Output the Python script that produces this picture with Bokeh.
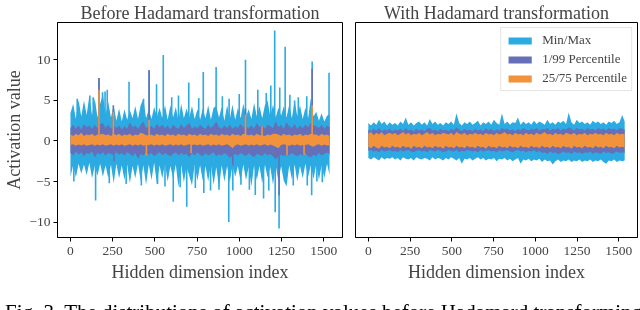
from bokeh.plotting import figure
from bokeh.layouts import row, column
from bokeh.models import Range1d, FixedTicker, Legend, LegendItem, Div
from bokeh.embed import file_html
from bokeh.resources import INLINE

# ---------------- data ----------------
# sampled hidden-dimension indices (every 16th channel)
X = list(range(0, 1536, 16)) + [1535]

X_TICKS = [0, 250, 500, 750, 1000, 1250, 1500]
Y_TICKS = [-10, -5, 0, 5, 10]

# Before Hadamard: typical envelope
MAX_L = [3.4, 4.6, 2.7, 5.1, 3.0, 5.0, 3.2, 5.6, 3.1, 5.3,
         2.9, 4.6, 5.8, 3.3, 4.8, 2.9, 4.4, 2.5, 4.0, 2.4,
         3.9, 2.6, 3.8, 2.8, 4.3, 2.7, 4.4, 5.2, 2.8, 3.9,
         2.7, 4.2, 3.0, 4.1, 2.8, 4.4, 2.6, 4.4, 2.9, 4.2,
         2.5, 4.6, 2.8, 4.0, 2.9, 4.3, 2.7, 3.9, 2.6, 4.0,
         2.8, 4.4, 2.6, 4.1, 4.3, 2.9, 4.2, 2.5, 4.4, 2.7,
         4.5, 2.6, 4.1, 2.8, 4.6, 3.0, 3.9, 2.7, 4.7, 3.0,
         4.3, 2.8, 4.4, 5.0, 3.0, 4.5, 2.9, 4.1, 3.1, 4.3,
         2.9, 4.5, 2.8, 5.0, 3.0, 4.4, 2.7, 4.1, 2.8, 5.3,
         3.0, 3.6, 2.5, 3.4, 2.4, 3.1, 3.3]
MIN_L = [-4.4, -3.0, -4.5, -2.8, -4.0, -2.9, -4.2, -2.7, -4.6, -3.1,
         -4.3, -2.8, -4.4, -3.0, -4.6, -2.9, -5.2, -2.8, -4.6, -3.0,
         -4.8, -2.9, -5.2, -3.1, -4.6, -2.8, -4.9, -3.0, -5.4, -2.9,
         -4.8, -2.7, -5.3, -3.0, -4.6, -2.8, -5.0, -3.1, -4.6, -2.9,
         -5.7, -3.0, -5.1, -3.2, -4.3, -5.5, -2.9, -4.9, -3.0, -4.9,
         -3.1, -5.0, -2.9, -5.4, -3.2, -5.8, -3.0, -5.0, -3.1, -5.1,
         -3.0, -4.4, -3.1, -5.0, -2.9, -4.8, -3.2, -5.6, -3.0, -4.8,
         -3.1, -5.2, -2.9, -4.5, -3.2, -5.4, -3.0, -5.0, -3.1, -4.9,
         -5.6, -3.0, -4.75, -2.9, -5.0, -3.1, -4.6, -2.8, -4.4, -3.0,
         -4.7, -2.9, -4.8, -3.0, -4.6, -2.8, -4.2]
P99_L = [1.6, 2.0, 1.5, 1.9, 1.4, 2.1, 1.7, 1.9, 1.5, 2.0,
         1.6, 2.1, 2.2, 1.6, 2.0, 1.5, 1.9, 1.6, 1.9, 1.4,
         1.8, 1.5, 2.3, 1.7, 1.9, 1.5, 2.0, 2.4, 1.6, 1.8,
         1.8, 1.5, 2.1, 1.7, 2.0, 1.6, 1.9, 1.4, 2.0, 1.7,
         1.5, 2.1, 1.6, 1.9, 2.2, 1.5, 1.8, 1.6, 2.0, 1.7,
         1.5, 2.0, 1.6, 1.9, 2.4, 1.7, 1.5, 1.9, 1.6, 2.0,
         1.5, 1.8, 1.6, 2.1, 1.7, 1.7, 1.6, 1.9, 1.5, 2.2,
         1.7, 1.9, 1.5, 2.0, 1.8, 1.6, 2.5, 1.7, 2.0, 1.5,
         2.3, 1.8, 1.6, 2.1, 1.5, 1.9, 1.6, 2.0, 1.7, 2.2,
         1.9, 1.8, 1.6, 2.0, 1.5, 1.9, 1.7]
P1_L = [-1.5, -1.8, -1.3, -1.7, -1.4, -1.9, -1.5, -1.6, -1.3, -2.0,
        -1.5, -1.7, -1.4, -1.8, -1.5, -1.6, -1.7, -1.4, -1.7, -1.5,
        -1.8, -1.4, -1.6, -1.9, -1.5, -2.2, -1.6, -1.8, -1.4, -1.7,
        -1.5, -1.9, -1.6, -1.4, -1.8, -1.5, -1.7, -1.9, -1.6, -1.4,
        -1.8, -1.5, -1.7, -1.6, -2.0, -1.5, -1.8, -1.4, -1.7, -1.9,
        -1.5, -1.8, -1.6, -1.4, -1.9, -1.6, -1.8, -1.5, -1.7, -2.1,
        -1.8, -1.6, -1.8, -1.5, -1.7, -1.9, -1.5, -1.8, -2.0, -1.6,
        -1.7, -1.9, -1.5, -1.8, -1.6, -1.9, -2.3, -1.9, -1.7, -1.9,
        -1.6, -1.8, -1.5, -1.7, -1.9, -1.6, -1.8, -1.5, -1.9, -2.0,
        -1.7, -1.9, -1.5, -1.8, -1.6, -1.4, -1.7]
P75_L = [0.8, 0.6, 0.9, 0.7, 1.0, 0.6, 0.8, 0.7, 0.9, 0.6,
         0.8, 0.8, 0.9, 0.7, 0.8, 0.6, 0.9, 0.7, 0.9, 0.6,
         0.8, 0.7, 0.9, 0.6, 0.8, 0.7, 1.0, 0.9, 0.7, 0.7,
         0.8, 0.6, 0.9, 0.7, 0.8, 0.6, 0.9, 0.7, 0.8, 0.6,
         0.9, 0.7, 0.8, 0.6, 0.9, 0.7, 0.8, 0.6, 0.9, 0.7,
         0.8, 0.6, 0.9, 0.7, 0.8, 0.6, 0.9, 0.7, 0.8, 0.6,
         0.9, 0.7, 0.8, 0.6, 0.9, 0.8, 0.7, 0.8, 0.6, 0.9,
         0.7, 0.7, 0.6, 0.8, 0.7, 0.9, 0.9, 0.8, 0.6, 0.9,
         0.7, 0.8, 0.6, 0.8, 0.7, 0.9, 0.6, 0.8, 0.7, 0.9,
         0.8, 0.8, 0.6, 0.9, 0.7, 0.8, 0.6]
P25_L = [-0.5, -0.4, -0.6, -0.45, -0.55, -0.4, -0.6, -0.5, -0.4, -0.6,
         -0.45, -0.55, -0.4, -0.6, -0.5, -0.4, -0.6, -0.45, -0.55, -0.4,
         -0.6, -0.5, -0.4, -0.6, -0.45, -0.55, -0.4, -0.6, -0.5, -0.5,
         -0.4, -0.6, -0.45, -0.55, -0.4, -0.6, -0.5, -0.4, -0.6, -0.45,
         -0.55, -0.4, -0.6, -0.5, -0.4, -0.5, -0.45, -0.55, -0.4, -0.6,
         -0.5, -0.4, -0.6, -0.45, -0.55, -0.4, -0.6, -0.5, -0.4, -0.6,
         -0.9, -0.55, -0.4, -0.6, -0.5, -0.4, -0.6, -0.45, -0.55, -0.4,
         -0.6, -0.5, -0.4, -0.6, -0.45, -0.55, -0.7, -0.9, -0.5, -0.4,
         -0.5, -0.6, -0.45, -0.55, -0.4, -0.6, -0.5, -0.5, -0.4, -0.6,
         -0.7, -0.5, -0.4, -0.6, -0.45, -0.55, -0.5]

# Before Hadamard: isolated outlier channels (index, value)
SPK_MAX_I = [40, 115, 135, 169, 190, 205, 218, 347, 433, 466, 510, 550, 600, 640,
             701, 760, 787, 863, 900, 940, 1000, 1037, 1110, 1160, 1187, 1210,
             1240, 1272, 1300, 1328, 1350, 1400, 1432, 1532]
SPK_MAX_V = [5.2, 5.6, 5.4, 7.75, 6.0, 6.1, 6.3, 7.3, 5.2, 8.7, 7.0, 10.6, 5.4, 5.6,
             7.2, 5.3, 8.5, 9.1, 5.5, 5.2, 5.8, 10.0, 6.3, 5.9, 6.85, 13.6,
             6.6, 11.6, 5.7, 5.0, 5.4, 5.5, 9.8, 8.4]
SPK_MIN_I = [20, 149, 230, 330, 420, 516, 560, 609, 650, 689, 740, 790, 830, 880,
             938, 962, 1010, 1060, 1095, 1144, 1175, 1213, 1236, 1320, 1403, 1429,
             1460, 1492]
SPK_MIN_V = [-5.0, -7.35, -5.2, -5.3, -5.5, -5.3, -5.6, -7.5, -5.7, -8.1, -5.8, -6.4,
             -6.1, -6.0, -10.0, -6.1, -5.4, -6.0, -6.65, -7.1, -6.1, -8.8, -10.8,
             -5.5, -5.5, -6.7, -5.0, -5.1]
SPK_P99_I = [169, 254, 466, 1037, 1432]
SPK_P99_V = [7.75, 4.4, 8.7, 4.0, 8.9]
SPK_P1_I = [258, 962, 1236]
SPK_P1_V = [-2.5, -3.0, -6.7]
SPK_P75_I = [169, 254, 466, 1037, 1135, 1432]
SPK_P75_V = [6.3, 3.6, 2.6, 3.2, 1.8, 4.4]
SPK_P25_I = [450, 715, 1283, 1384]
SPK_P25_V = [-1.8, -1.5, -1.7, -1.7]

# With Hadamard
MAX_R = [2.2, 1.9, 2.3, 2.0, 2.6, 2.1, 2.4, 1.9, 2.3, 2.0,
         2.2, 1.9, 2.4, 2.1, 2.9, 2.0, 2.3, 1.9, 2.2, 2.4,
         2.0, 2.3, 1.9, 2.7, 2.1, 2.4, 2.0, 2.2, 1.9, 2.3,
         2.1, 2.4, 2.0, 3.4, 2.2, 1.9, 2.3, 2.1, 2.4, 2.0,
         2.2, 2.5, 1.9, 2.3, 2.1, 2.4, 2.0, 2.6, 2.2, 2.0,
         3.4, 2.1, 2.4, 2.0, 2.3, 2.2, 2.9, 2.0, 2.4, 2.1,
         2.3, 2.0, 2.5, 2.1, 2.4, 2.2, 2.0, 2.6, 2.1, 2.3,
         2.0, 2.4, 2.2, 2.5, 2.1, 3.5, 2.3, 2.0, 2.6, 2.2,
         2.4, 2.1, 2.3, 2.0, 2.5, 2.2, 2.4, 2.1, 2.3, 2.0,
         2.4, 2.2, 2.5, 2.1, 2.3, 3.2, 2.4]
MIN_R = [-2.1, -2.3, -2.0, -2.2, -2.4, -2.0, -2.3, -2.1, -2.2, -2.0,
         -2.3, -2.1, -2.4, -2.0, -2.2, -2.3, -2.1, -2.4, -2.0, -2.2,
         -2.3, -2.1, -2.2, -2.4, -2.0, -2.3, -2.1, -2.2, -2.4, -2.1,
         -2.3, -2.0, -2.2, -2.4, -2.1, -2.8, -2.2, -2.3, -2.1, -2.4,
         -2.2, -2.0, -2.3, -2.1, -2.4, -2.2, -2.3, -2.1, -2.5, -2.2,
         -2.3, -2.1, -2.4, -2.2, -2.5, -2.3, -2.1, -2.8, -2.3, -2.4,
         -2.2, -2.5, -2.3, -2.4, -2.2, -2.6, -2.3, -2.5, -2.4, -2.9,
         -2.5, -2.3, -2.6, -2.4, -2.5, -2.3, -2.6, -2.4, -2.5, -2.3,
         -2.6, -2.4, -2.5, -2.3, -2.6, -2.4, -2.5, -2.3, -2.6, -2.8,
         -2.4, -2.5, -2.3, -2.6, -2.4, -2.5, -2.4]
P99_R = [1.4, 1.2, 1.5, 1.3, 1.6, 1.2, 1.4, 1.3, 1.5, 1.2,
         1.4, 1.3, 1.5, 1.2, 1.6, 1.3, 1.4, 1.2, 1.5, 1.3,
         1.4, 1.2, 1.5, 1.6, 1.3, 1.4, 1.2, 1.5, 1.3, 1.4,
         1.2, 1.5, 1.3, 1.7, 1.4, 1.2, 1.5, 1.3, 1.4, 1.2,
         1.5, 1.3, 1.4, 1.2, 1.6, 1.3, 1.5, 1.2, 1.4, 1.3,
         1.6, 1.4, 1.5, 1.3, 1.4, 1.2, 1.5, 1.3, 1.6, 1.4,
         1.3, 1.5, 1.4, 1.6, 1.3, 1.5, 1.4, 1.6, 1.3, 1.5,
         1.4, 1.6, 1.3, 1.5, 1.4, 1.7, 1.5, 1.3, 1.6, 1.4,
         1.5, 1.3, 1.6, 1.4, 1.5, 1.3, 1.6, 1.4, 1.5, 1.3,
         1.6, 1.4, 1.5, 1.3, 1.6, 1.5, 1.4]
P75_R = [0.9, 1.1, 0.7, 1.0, 0.8, 1.1, 0.7, 0.9, 1.0, 0.8,
         1.0, 0.7, 0.9, 1.1, 0.8, 1.0, 0.7, 0.9, 0.8, 1.0,
         0.7, 0.9, 1.1, 0.8, 1.0, 0.7, 0.9, 0.8, 1.0, 0.9,
         0.8, 1.0, 0.7, 1.1, 0.9, 0.8, 1.0, 0.7, 0.9, 0.8,
         1.0, 0.8, 0.9, 0.7, 1.0, 0.8, 0.9, 0.7, 1.0, 0.8,
         0.9, 1.1, 0.8, 0.9, 0.7, 1.0, 0.8, 0.9, 0.7, 1.0,
         0.8, 0.9, 0.7, 1.0, 0.8, 0.9, 1.1, 0.8, 0.9, 0.7,
         1.0, 0.8, 0.9, 0.7, 1.0, 0.9, 0.8, 1.0, 0.7, 0.9,
         0.8, 1.0, 0.7, 0.9, 0.8, 1.0, 0.8, 0.9, 0.7, 1.0,
         0.8, 0.9, 0.7, 1.0, 0.8, 0.9, 0.8]
P25_R = [-0.7, -0.9, -0.6, -0.8, -0.95, -0.6, -0.8, -0.7, -0.9, -0.6,
         -0.8, -0.7, -0.9, -0.6, -0.8, -0.7, -0.95, -0.6, -0.8, -0.7,
         -0.9, -0.6, -0.8, -0.7, -0.9, -0.6, -0.8, -0.7, -0.95, -0.6,
         -0.8, -0.7, -0.9, -0.6, -0.8, -0.7, -0.9, -0.6, -0.8, -0.7,
         -0.9, -0.6, -0.8, -0.7, -0.95, -0.6, -0.8, -0.7, -0.9, -0.6,
         -0.8, -0.7, -0.9, -0.6, -0.8, -0.7, -0.9, -0.6, -0.8, -0.7,
         -0.9, -0.6, -0.8, -0.7, -0.9, -0.6, -0.8, -0.7, -0.9, -0.6,
         -0.8, -0.7, -0.9, -0.6, -0.8, -0.7, -0.95, -0.6, -0.8, -0.7,
         -0.9, -0.6, -0.8, -0.7, -0.9, -0.6, -0.8, -0.7, -0.9, -0.6,
         -0.8, -0.7, -0.9, -0.6, -0.8, -0.7, -0.8]
P1_R = [-1.2, -1.1, -1.3, -1.2, -1.4, -1.1, -1.3, -1.2, -1.1, -1.3,
        -1.2, -1.4, -1.1, -1.3, -1.2, -1.1, -1.3, -1.4, -1.2, -1.1,
        -1.3, -1.2, -1.4, -1.1, -1.2, -1.3, -1.1, -1.2, -1.4, -1.3,
        -1.1, -1.2, -1.3, -1.1, -1.4, -1.2, -1.3, -1.1, -1.2, -1.3,
        -1.2, -1.4, -1.1, -1.3, -1.2, -1.1, -1.3, -1.2, -1.4, -1.1,
        -1.3, -1.2, -1.1, -1.3, -1.4, -1.2, -1.1, -1.3, -1.2, -1.4,
        -1.2, -1.3, -1.1, -1.4, -1.2, -1.5, -1.4, -1.6, -1.3, -1.5,
        -1.4, -1.6, -1.5, -1.3, -1.5, -1.4, -1.6, -1.3, -1.5, -1.4,
        -1.6, -1.4, -1.5, -1.3, -1.6, -1.4, -1.5, -1.6, -1.3, -1.5,
        -1.4, -1.6, -1.5, -1.3, -1.5, -1.4, -1.5]

LEGEND_LABELS = ["Min/Max", "1/99 Percentile", "25/75 Percentile"]
TITLES = ["Before Hadamard transformation", "With Hadamard transformation"]
CAPTION = "Fig. 3. The distributions of activation values before Hadamard transforming"

# ---------------- style ----------------
FONT = "Liberation Serif"
CYAN = "#2CAAE2"
PURPLE = "#6670B8"
ORANGE = "#F2923A"


def make_fig(title, w, mbl, mbr, show_y):
    p = figure(width=w, height=290,
               x_range=Range1d(-76.75, 1611.75), y_range=Range1d(-11.9, 14.6),
               output_backend="svg", toolbar_location=None,
               min_border_left=mbl, min_border_right=mbr,
               min_border_top=22, min_border_bottom=53, title=title)
    p.title.text_font = FONT
    p.title.text_font_size = "18px"
    p.title.text_font_style = "normal"
    p.title.align = "center"
    p.title.standoff = 0
    p.title.offset = 0
    p.grid.visible = False
    p.outline_line_color = "black"
    p.outline_line_width = 1
    p.outline_line_alpha = 1
    p.background_fill_color = "white"
    p.border_fill_color = "white"

    xa = p.xaxis[0]
    xa.ticker = FixedTicker(ticks=X_TICKS)
    xa.major_label_text_font = FONT
    xa.major_label_text_font_size = "13.5px"
    xa.major_tick_out = 4
    xa.major_tick_in = 0
    xa.minor_tick_line_color = None
    xa.major_label_standoff = 5
    xa.axis_label = "Hidden dimension index"
    xa.axis_label_text_font = FONT
    xa.axis_label_text_font_size = "18px"
    xa.axis_label_text_font_style = "normal"
    xa.axis_label_standoff = 4
    xa.axis_line_color = "black"

    ya = p.yaxis[0]
    if show_y:
        ya.ticker = FixedTicker(ticks=Y_TICKS)
        ya.major_label_overrides = {-10: "\u221210", -5: "\u22125"}
        ya.major_label_text_font = FONT
        ya.major_label_text_font_size = "13.5px"
        ya.major_tick_out = 4
        ya.major_tick_in = 0
        ya.minor_tick_line_color = None
        ya.major_label_standoff = 3
        ya.axis_label = "Activation value"
        ya.axis_label_text_font = FONT
        ya.axis_label_text_font_size = "18px"
        ya.axis_label_text_font_style = "normal"
        ya.axis_label_standoff = 2
    else:
        ya.visible = False
    return p


def bands(p, lo, hi, color, si=None, sv=None):
    r = p.varea(x=X, y1=lo, y2=hi, fill_color=color, fill_alpha=1.0)
    if si:
        p.segment(x0=si, y0=[0] * len(si), x1=si, y1=sv, line_color=color, line_width=1.6)
    return r


p1 = make_fig(TITLES[0], 348, 57, 6, True)
bands(p1, MIN_L, MAX_L, CYAN, SPK_MAX_I + SPK_MIN_I, SPK_MAX_V + SPK_MIN_V)
bands(p1, P1_L, P99_L, PURPLE, SPK_P99_I + SPK_P1_I, SPK_P99_V + SPK_P1_V)
bands(p1, P25_L, P75_L, ORANGE, SPK_P75_I + SPK_P25_I, SPK_P75_V + SPK_P25_V)

p2 = make_fig(TITLES[1], 292, 7, 3, False)
r_c = bands(p2, MIN_R, MAX_R, CYAN)
r_p = bands(p2, P1_R, P99_R, PURPLE)
r_o = bands(p2, P25_R, P75_R, ORANGE)

legend = Legend(items=[LegendItem(label=LEGEND_LABELS[0], renderers=[r_c]),
                       LegendItem(label=LEGEND_LABELS[1], renderers=[r_p]),
                       LegendItem(label=LEGEND_LABELS[2], renderers=[r_o])],
                location="top_right")
legend.label_text_font = FONT
legend.label_text_font_size = "13px"
legend.glyph_width = 29
legend.glyph_height = 9
legend.label_height = 16
legend.label_standoff = 8
legend.spacing = 3
legend.padding = 4
legend.margin = 5
legend.border_line_color = "#cccccc"
legend.border_line_width = 1
legend.background_fill_alpha = 0.8
p2.add_layout(legend)

caption = Div(text=CAPTION, width=640, height=20,
              styles={"font-family": FONT, "font-size": "21px", "white-space": "nowrap",
                      "overflow": "hidden", "line-height": "34px", "color": "black"})

layout = column(row(p1, p2, spacing=0), caption, spacing=0,
                styles={"position": "fixed", "left": "0px", "top": "0px", "margin": "0px"})

open("out.html", "w").write(file_html(layout, INLINE))
